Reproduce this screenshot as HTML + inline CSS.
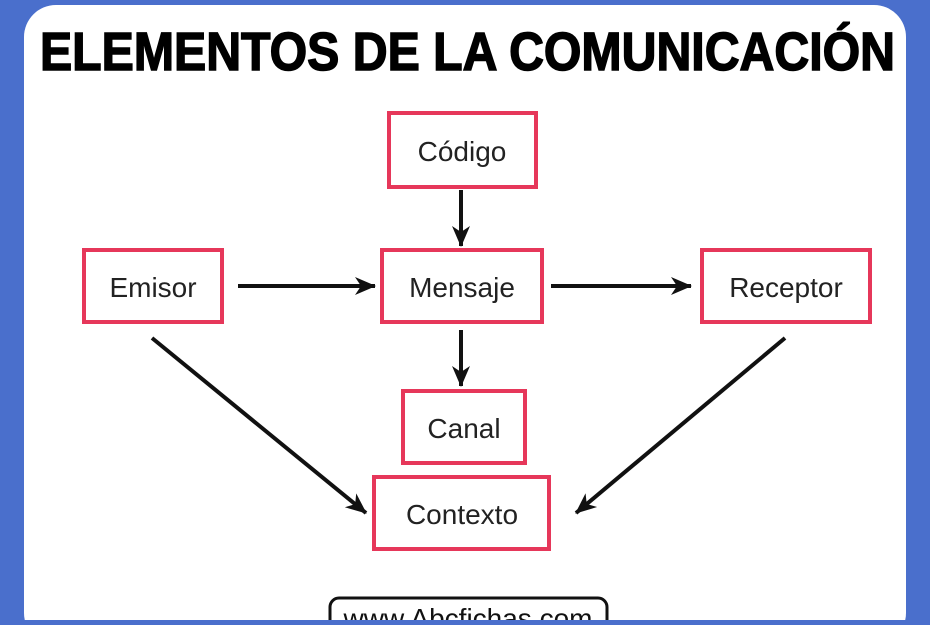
<!DOCTYPE html>
<html><head><style>
body{margin:0;width:930px;height:620px;overflow:hidden;background:#4a6fcc}
</style></head><body>
<svg width="930" height="620" xmlns="http://www.w3.org/2000/svg">
<defs>
<marker id="b" markerWidth="22" markerHeight="22" refX="20" refY="9" orient="auto" markerUnits="userSpaceOnUse" viewBox="0 0 22 18"><path d="M0,0 L21,9 L0,18 L6,9 z" fill="#111"/></marker></defs>
<rect x="24" y="5" width="882" height="640" rx="32" fill="#fff"/>
<text x="40" y="70" font-family="Liberation Sans, sans-serif" font-weight="bold" font-size="54" textLength="855" lengthAdjust="spacingAndGlyphs" fill="#000" stroke="#000" stroke-width="1.5">ELEMENTOS DE LA COMUNICACIÓN</text>
<g fill="#fff" stroke="#e6375a" stroke-width="4">
<rect x="389" y="113" width="147" height="74"/>
<rect x="84" y="250" width="138" height="72"/>
<rect x="382" y="250" width="160" height="72"/>
<rect x="702" y="250" width="168" height="72"/>
<rect x="403" y="391" width="122" height="72"/>
<rect x="374" y="477" width="175" height="72"/>
</g>
<g font-family="Liberation Sans, sans-serif" font-size="28" fill="#222" text-anchor="middle">
<text x="462" y="161">Código</text>
<text x="153" y="297">Emisor</text>
<text x="462" y="297">Mensaje</text>
<text x="786" y="297">Receptor</text>
<text x="464" y="438">Canal</text>
<text x="462" y="524">Contexto</text>
</g>
<g stroke="#111" stroke-width="4" fill="none">
<line x1="461" y1="190" x2="461" y2="246" marker-end="url(#b)"/>
<line x1="238" y1="286" x2="375" y2="286" marker-end="url(#b)"/>
<line x1="551" y1="286" x2="691" y2="286" marker-end="url(#b)"/>
<line x1="461" y1="330" x2="461" y2="386" marker-end="url(#b)"/>
<line x1="152" y1="338" x2="366" y2="513" marker-end="url(#b)"/>
<line x1="785" y1="338" x2="576" y2="513" marker-end="url(#b)"/>
</g>
<rect x="330" y="598" width="277" height="40" rx="9" fill="#fff" stroke="#111" stroke-width="3"/>
<text x="468" y="628" font-family="Liberation Sans, sans-serif" font-size="28" text-anchor="middle" fill="#111">www.Abcfichas.com</text>
</svg>
</body></html>
